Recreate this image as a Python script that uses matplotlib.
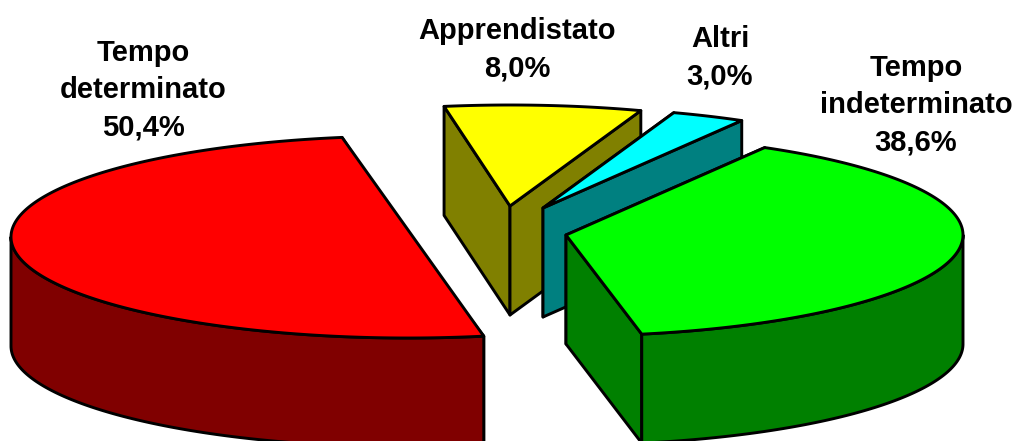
import numpy as np
import matplotlib
matplotlib.use("Agg")
import matplotlib.pyplot as plt
from matplotlib.patches import Polygon

labels = ["Tempo\nindeterminato", "Altri", "Apprendistato", "Tempo\ndeterminato"]
shares = [38.6, 3.0, 8.0, 50.4]
share_text = ["38,6%", "3,0%", "8,0%", "50,4%"]

top_colors = ["#00ff00", "#00ffff", "#ffff00", "#ff0000"]
side_colors = ["#008000", "#008080", "#808000", "#800000"]

# slice apex in pixels, exploded by hand to sit like the original
centers = [(566, 235), (543, 208), (510, 206), (408, 237)]
label_pos = [(916, 105), (720, 58), (517, 50), (143, 90)]

start_angle = -79
rx, ry = 397, 101
depth = 109
lw = 2.1


def rim(c, a0, a1, dz=0):
    t = np.radians(np.linspace(a0, a1, 200))
    return np.column_stack([c[0] + rx * np.cos(t), c[1] - ry * np.sin(t) + dz])


def draw_slice(ax, c, a0, a1, top, side):
    # radial faces, the one further back first
    ends = sorted([a0, a1], key=lambda a: -np.sin(np.radians(a)))
    for a in ends:
        p = rim(c, a, a, 0)[0]
        face = [c, p, (p[0], p[1] + depth), (c[0], c[1] + depth)]
        ax.add_patch(Polygon(face, fc=side, ec="black", lw=lw, joinstyle="round"))

    # outer wall, only the part that faces the viewer
    w0, w1 = max(a0, 180), min(a1, 360)
    if a0 < 0:
        w0, w1 = a0, min(a1, 0)
    if w1 > w0:
        up = rim(c, w0, w1)
        down = rim(c, w0, w1, depth)[::-1]
        ax.add_patch(Polygon(np.vstack([up, down]), fc=side, ec="black", lw=lw, joinstyle="round"))

    # the big slice has a straight cut in the original, no kink at the apex
    if a1 - a0 > 180:
        outline = rim(c, a0, a1)
    else:
        outline = np.vstack([[c], rim(c, a0, a1)])
    ax.add_patch(Polygon(outline, fc=top, ec="black", lw=lw, joinstyle="round"))


fig = plt.figure(figsize=(10.15, 4.41), dpi=100)
ax = fig.add_axes([0, 0, 1, 1])
ax.set_xlim(0, 1015)
ax.set_ylim(441, 0)
ax.axis("off")

spans = np.array(shares) / sum(shares) * 360
a = start_angle
angles = []
for s in spans:
    angles.append((a, a + s))
    a += s

# back to front
for i in [2, 1, 0, 3]:
    draw_slice(ax, centers[i], angles[i][0], angles[i][1], top_colors[i], side_colors[i])

for lab, val, pos in zip(labels, share_text, label_pos):
    ax.text(pos[0], pos[1], lab + "\n" + val, ha="center", va="center", family="Liberation Sans",
            weight="bold", fontsize=21, linespacing=1.43)

fig.savefig("out.png", dpi=100)
